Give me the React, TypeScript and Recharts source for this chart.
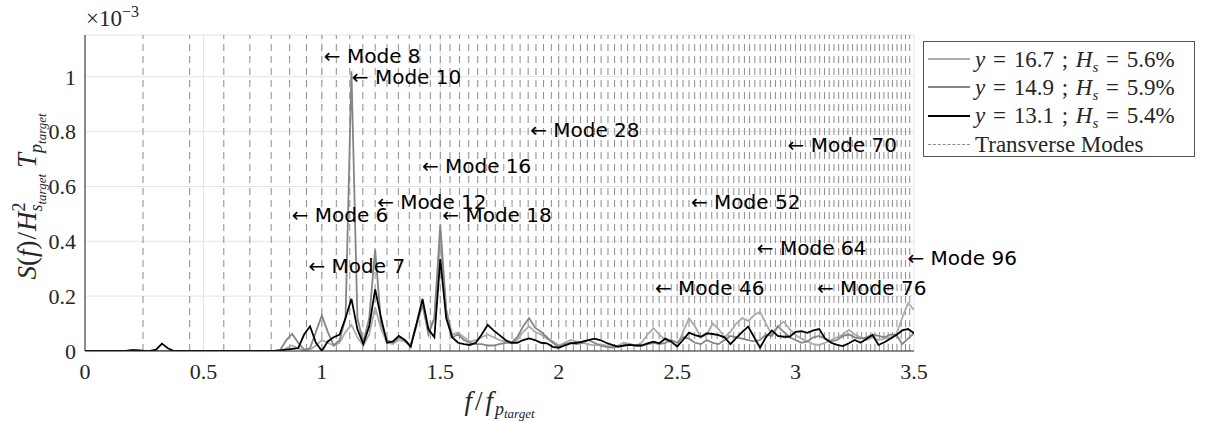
import { LineChart, Line, XAxis, YAxis, CartesianGrid, ReferenceLine, ReferenceDot } from 'recharts'

// normalised frequency f / f_p,target
const freq = [
  0, 0.025, 0.05, 0.075, 0.1, 0.125, 0.15, 0.175, 0.2, 0.225,
  0.25, 0.275, 0.3, 0.325, 0.35, 0.375, 0.4, 0.425, 0.45, 0.475,
  0.5, 0.525, 0.55, 0.575, 0.6, 0.625, 0.65, 0.675, 0.7, 0.725,
  0.75, 0.775, 0.8, 0.825, 0.85, 0.875, 0.9, 0.925, 0.95, 0.975,
  1, 1.025, 1.05, 1.075, 1.1, 1.125, 1.15, 1.175, 1.2, 1.225,
  1.25, 1.275, 1.3, 1.325, 1.35, 1.375, 1.4, 1.425, 1.45, 1.475,
  1.5, 1.525, 1.55, 1.575, 1.6, 1.625, 1.65, 1.675, 1.7, 1.725,
  1.75, 1.775, 1.8, 1.825, 1.85, 1.875, 1.9, 1.925, 1.95, 1.975,
  2, 2.025, 2.05, 2.075, 2.1, 2.125, 2.15, 2.175, 2.2, 2.225,
  2.25, 2.275, 2.3, 2.325, 2.35, 2.375, 2.4, 2.425, 2.45, 2.475,
  2.5, 2.525, 2.55, 2.575, 2.6, 2.625, 2.65, 2.675, 2.7, 2.725,
  2.75, 2.775, 2.8, 2.825, 2.85, 2.875, 2.9, 2.925, 2.95, 2.975,
  3, 3.025, 3.05, 3.075, 3.1, 3.125, 3.15, 3.175, 3.2, 3.225,
  3.25, 3.275, 3.3, 3.325, 3.35, 3.375, 3.4, 3.425, 3.45, 3.475,
  3.5,
]

// spectra, in units of 1e-3
const specY167 = [
  0, 0, 0, 0, 0, 0, 0, 0, 0.004, 0.002,
  0, 0, 0, 0, 0, 0, 0, 0, 0, 0,
  0, 0, 0, 0, 0, 0, 0, 0, 0, 0,
  0, 0, 0, 0, 0.01, 0.02, 0.01, 0, 0.005, 0.02,
  0.04, 0.03, 0.02, 0.03, 0.07, 0.095, 0.05, 0.02, 0.06, 0.16,
  0.08, 0.03, 0.025, 0.04, 0.035, 0.02, 0.09, 0.17, 0.07, 0.12,
  0.4, 0.15, 0.06, 0.067, 0.05, 0.035, 0.04, 0.05, 0.06, 0.05,
  0.04, 0.035, 0.03, 0.04, 0.07, 0.09, 0.07, 0.06, 0.045, 0.035,
  0.02, 0.03, 0.04, 0.035, 0.03, 0.025, 0.02, 0.025, 0.02, 0.015,
  0.02, 0.03, 0.025, 0.02, 0.03, 0.06, 0.083, 0.06, 0.04, 0.03,
  0.02, 0.07, 0.119, 0.09, 0.05, 0.06, 0.1, 0.08, 0.05, 0.07,
  0.1, 0.12, 0.11, 0.13, 0.143, 0.1, 0.06, 0.09, 0.107, 0.08,
  0.058, 0.045, 0.035, 0.025, 0.022, 0.03, 0.04, 0.05, 0.06, 0.077,
  0.06, 0.05, 0.04, 0.05, 0.04, 0.045, 0.05, 0.06, 0.12, 0.174,
  0.15,
]

const specY149 = [
  0, 0, 0, 0, 0, 0, 0, 0, 0.002, 0.001,
  0, 0, 0, 0, 0, 0, 0, 0, 0, 0,
  0, 0, 0, 0, 0, 0, 0, 0, 0, 0,
  0, 0, 0, 0.005, 0.04, 0.062, 0.03, 0.005, 0.01, 0.07,
  0.13, 0.07, 0.02, 0.04, 0.12, 1.02, 0.12, 0.03, 0.12, 0.37,
  0.1, 0.04, 0.03, 0.05, 0.04, 0.02, 0.1, 0.17, 0.06, 0.12,
  0.46, 0.15, 0.05, 0.06, 0.04, 0.03, 0.025, 0.025, 0.02, 0.02,
  0.025, 0.03, 0.03, 0.05, 0.09, 0.12, 0.085, 0.07, 0.05, 0.03,
  0.015, 0.025, 0.03, 0.025, 0.03, 0.04, 0.03, 0.02, 0.015, 0.012,
  0.015, 0.02, 0.025, 0.02, 0.02, 0.025, 0.03, 0.025, 0.03, 0.04,
  0.03, 0.05, 0.045, 0.03, 0.025, 0.04, 0.03, 0.025, 0.04, 0.055,
  0.05, 0.045, 0.04, 0.035, 0.04, 0.06, 0.055, 0.09, 0.07, 0.05,
  0.04, 0.03, 0.035, 0.05, 0.055, 0.045, 0.035, 0.04, 0.055, 0.06,
  0.05, 0.045, 0.05, 0.06, 0.055, 0.05, 0.06, 0.06, 0.025, 0.045,
  0.065,
]

const specY131 = [
  0, 0, 0, 0, 0, 0, 0, 0, 0.003, 0.002,
  0, 0, 0.005, 0.027, 0.01, 0, 0, 0, 0, 0,
  0, 0, 0, 0, 0, 0, 0, 0, 0, 0,
  0, 0, 0, 0.002, 0.005, 0.008, 0.01, 0.06, 0.09, 0.03,
  0, 0.035, 0.05, 0.06, 0.12, 0.19, 0.08, 0.025, 0.09, 0.225,
  0.12, 0.03, 0.035, 0.055, 0.04, 0.015, 0.1, 0.19, 0.08, 0.05,
  0.335, 0.12, 0.05, 0.03, 0.025, 0.022, 0.03, 0.06, 0.095, 0.075,
  0.058, 0.04, 0.03, 0.03, 0.04, 0.046, 0.04, 0.03, 0.028, 0.015,
  0.012, 0.02, 0.028, 0.03, 0.034, 0.04, 0.045, 0.04, 0.03, 0.022,
  0.016, 0.02, 0.022, 0.02, 0.02, 0.028, 0.034, 0.028, 0.045, 0.035,
  0.016, 0.04, 0.067, 0.058, 0.052, 0.064, 0.062, 0.058, 0.05, 0.025,
  0.048, 0.07, 0.089, 0.05, 0.012, 0.05, 0.075, 0.055, 0.052, 0.052,
  0.07, 0.072, 0.066, 0.075, 0.08, 0.045, 0.03, 0.022, 0.018, 0.028,
  0.04, 0.03, 0.045, 0.058, 0.022, 0.032, 0.045, 0.058, 0.075, 0.08,
  0.065,
]

// transverse sloshing mode frequencies, modes 1..97
const transverseModes = [
  0.245, 0.442, 0.586, 0.696, 0.786, 0.864, 0.935, 1.0, 1.061, 1.118,
  1.173, 1.225, 1.275, 1.323, 1.369, 1.414, 1.458, 1.5, 1.541, 1.581,
  1.62, 1.658, 1.696, 1.732, 1.768, 1.803, 1.837, 1.871, 1.904, 1.936,
  1.969, 2.0, 2.031, 2.062, 2.092, 2.121, 2.151, 2.179, 2.208, 2.236,
  2.264, 2.291, 2.318, 2.345, 2.372, 2.398, 2.424, 2.449, 2.475, 2.5,
  2.525, 2.55, 2.574, 2.598, 2.622, 2.646, 2.669, 2.693, 2.716, 2.739,
  2.761, 2.784, 2.806, 2.828, 2.85, 2.872, 2.894, 2.915, 2.937, 2.958,
  2.979, 3.0, 3.021, 3.041, 3.062, 3.082, 3.102, 3.122, 3.142, 3.162,
  3.182, 3.202, 3.221, 3.24, 3.26, 3.279, 3.298, 3.317, 3.335, 3.354,
  3.373, 3.391, 3.409, 3.428, 3.446, 3.464, 3.482,
]

const labelModes = [8, 10, 28, 16, 70, 12, 6, 18, 52, 7, 64, 96, 46, 76]
const labelFreq = [1.0, 1.118, 1.871, 1.414, 2.958, 1.225, 0.864, 1.5, 2.55, 0.935, 2.828, 3.464, 2.398, 3.082]
const labelLevel = [1.075, 1.0, 0.805, 0.675, 0.75, 0.545, 0.495, 0.495, 0.545, 0.31, 0.375, 0.34, 0.23, 0.23]

const xTicks = [0, 0.5, 1, 1.5, 2, 2.5, 3, 3.5]
const yTicks = [0, 0.2, 0.4, 0.6, 0.8, 1]

const legendY = ['16.7', '14.9', '13.1']
const legendHs = ['5.6', '5.9', '5.4']
const seriesKeys = ['y167', 'y149', 'y131']
const seriesColors = ['#ababab', '#858585', '#000000']

const data = freq.map((f, i) => ({ f, y167: specY167[i], y149: specY149[i], y131: specY131[i] }))

const serif = "'Liberation Serif', 'Times New Roman', serif"
const axisColor = '#262626'

function YTitle(props: any) {
  const vb = props.viewBox || { x: 0, y: 35, width: 85, height: 316 }
  const cy = vb.y + vb.height / 2 + 3.5
  return (
    <g>
      <text x={vb.x + vb.width + 1} y={vb.y - 9} fontFamily={serif} fontSize={23} fill={axisColor}>
        ×10<tspan fontSize={16} dy={-9}>−3</tspan>
      </text>
      <g transform={`translate(${vb.x + 36}, ${cy}) rotate(-90)`}>
        <text x={0} y={0} textAnchor="middle" fontFamily={serif} fontSize={27} fill={axisColor}>
          <tspan fontStyle="italic">S</tspan>(<tspan fontStyle="italic">f</tspan>)<tspan dx={1}>/</tspan><tspan fontStyle="italic" dx={1}>H</tspan>
          <tspan fontSize={18} dy={-11}>2</tspan>
          <tspan fontSize={18} fontStyle="italic" dx={-9} dy={17}>s</tspan>
          <tspan fontSize={13} fontStyle="italic" dy={4}>target</tspan>
          <tspan fontStyle="italic" dx={6} dy={-10}>T</tspan>
          <tspan fontSize={18} fontStyle="italic" dy={6}>p</tspan>
          <tspan fontSize={13} fontStyle="italic" dy={4}>target</tspan>
        </text>
      </g>
    </g>
  )
}

function XTitle(props: any) {
  const vb = props.viewBox || { x: 85, y: 351, width: 829, height: 70 }
  return (
    <text x={vb.x + vb.width / 2} y={vb.y + 59} textAnchor="middle" fontFamily={serif} fontSize={27} fill={axisColor}>
      <tspan fontStyle="italic">f</tspan>
      <tspan dx={3}>/</tspan>
      <tspan fontStyle="italic" dx={3}>f</tspan>
      <tspan fontSize={18} fontStyle="italic" dx={2} dy={5}>p</tspan>
      <tspan fontSize={13} fontStyle="italic" dy={3}>target</tspan>
    </text>
  )
}

function Legend() {
  return (
    <div
      style={{
        position: 'absolute', left: 923, top: 41, width: 272, height: 116, boxSizing: 'border-box',
        border: '1px solid #555', background: '#fff', fontFamily: serif, fontSize: 23, color: axisColor,
        paddingTop: 3,
      }}
    >
      {legendY.map((y, i) => (
        <div key={y} style={{ display: 'flex', alignItems: 'center', height: 28.3 }}>
          <div style={{ width: 42, marginLeft: 4, borderTop: `2px solid ${seriesColors[i]}` }} />
          <span style={{ marginLeft: 5, whiteSpace: 'nowrap', lineHeight: 1, wordSpacing: 2 }}>
            <i>y</i> = {y} ; <i>H</i>
            <span style={{ fontSize: 15, fontStyle: 'italic', position: 'relative', top: 5 }}>s</span> = {legendHs[i]}%
          </span>
        </div>
      ))}
      <div style={{ display: 'flex', alignItems: 'center', height: 28.3 }}>
        <div style={{ width: 42, marginLeft: 4, borderTop: '1px dashed #8c8c8c' }} />
        <span style={{ marginLeft: 5, whiteSpace: 'nowrap', lineHeight: 1 }}>Transverse Modes</span>
      </div>
    </div>
  )
}

export default function App() {
  return (
    <div style={{ position: 'absolute', left: 0, top: 0, width: 1205, height: 421, background: '#fff' }}>
      <LineChart width={1205} height={421} data={data} margin={{ top: 35, right: 291, bottom: 0, left: 0 }}>
        <CartesianGrid stroke="#e4e4e4" strokeWidth={1} />
        <XAxis
          dataKey="f" type="number" domain={[0, 3.5]} ticks={xTicks} allowDataOverflow
          height={70} tickSize={0} tickMargin={12} tickFormatter={(v) => String(v)}
          axisLine={{ stroke: axisColor }} tick={{ fontSize: 22, fontFamily: serif, fill: axisColor }}
          label={XTitle}
        />
        <YAxis
          type="number" domain={[0, 1.152]} ticks={yTicks} allowDataOverflow
          width={85} tickSize={0} tickMargin={9} tickFormatter={(v) => String(v)}
          axisLine={{ stroke: axisColor }} tick={{ fontSize: 22, fontFamily: serif, fill: axisColor }}
          label={YTitle}
        />
        {transverseModes.map((m) => (
          <ReferenceLine key={m} x={m} stroke="#8c8c8c" strokeWidth={1} strokeDasharray="7 5" />
        ))}
        {seriesKeys.map((k, i) => (
          <Line key={k} type="linear" dataKey={k} stroke={seriesColors[i]} strokeWidth={1.8} dot={false} isAnimationActive={false} />
        ))}
        {labelModes.map((m, i) => (
          <ReferenceDot
            key={m} x={labelFreq[i]} y={labelLevel[i]} r={0} ifOverflow="visible"
            shape={(p: any) => (
              <text x={p.cx + 2} y={p.cy + 7} fontFamily="'DejaVu Sans', sans-serif" fontSize={20} fill="#000">
                {'← Mode ' + m}
              </text>
            )}
          />
        ))}
      </LineChart>
      <Legend />
    </div>
  )
}
